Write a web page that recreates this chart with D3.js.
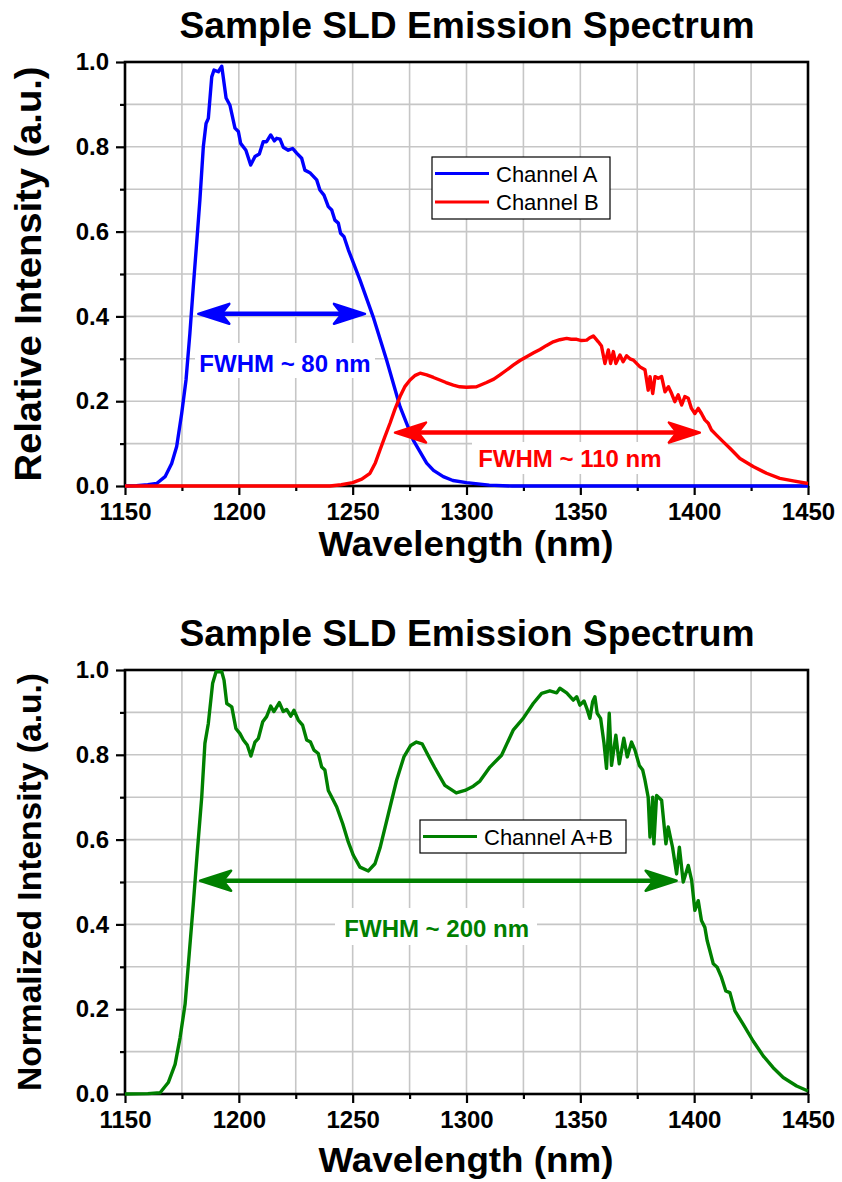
<!DOCTYPE html>
<html><head><meta charset="utf-8">
<script src="https://cdn.jsdelivr.net/npm/d3@7"></script>
<style>body{margin:0;background:#fff}svg{display:block}</style>
</head><body>
<svg id="c" width="842" height="1182"></svg>
<script>
// ---------- data ----------
const xTicks = [1150, 1200, 1250, 1300, 1350, 1400, 1450];
const yTicks = [0.0, 0.2, 0.4, 0.6, 0.8, 1.0];
const titleText = "Sample SLD Emission Spectrum";
const xLabel = "Wavelength (nm)";
const yLabelTop = "Relative Intensity (a.u.)";
const yLabelBottom = "Normalized Intensity (a.u.)";
const legendTop = ["Channel A", "Channel B"];
const legendBottom = ["Channel A+B"];

const wlA = [1150,1155,1160,1163.9,1167.6,1170.5,1172.7,1174.9,1176.8,1178.5,1180,1181.8,1182.9,1184.4,1185.6,1186.6,1188.1,1189.1,1191,1192.5,1194.4,1196.1,1198.3,1199.8,1200.8,1203.1,1205.2,1207.1,1209,1210.7,1212.2,1214,1215.6,1216.6,1218.1,1219.5,1221.7,1223.6,1225.4,1227.6,1229,1231.2,1234.2,1235.6,1237.4,1239.3,1240.8,1242.2,1243.7,1244.7,1246.2,1248.1,1253.2,1259,1264.9,1270.8,1276.6,1282.5,1285.5,1289.8,1294,1300,1310,1320,1450];
const intA = [0,0.001,0.003,0.006,0.022,0.053,0.093,0.171,0.25,0.36,0.47,0.596,0.675,0.8,0.855,0.867,0.965,0.981,0.977,0.99,0.915,0.898,0.844,0.836,0.808,0.792,0.757,0.777,0.783,0.812,0.812,0.828,0.814,0.82,0.818,0.799,0.792,0.796,0.785,0.773,0.745,0.739,0.722,0.698,0.686,0.659,0.651,0.627,0.62,0.596,0.588,0.557,0.486,0.399,0.297,0.187,0.108,0.054,0.037,0.022,0.013,0.008,0.002,0,0];

const wlB = [1150,1240,1245,1250,1254,1257.6,1260,1262,1264,1266.4,1268.5,1270.8,1273,1275.2,1277.5,1279.6,1282.5,1285.5,1288.3,1291,1294.2,1297,1300,1304.4,1308.8,1312,1314.7,1317.5,1320.5,1323.5,1326.4,1329.5,1332.3,1335,1338.1,1341,1344,1346,1348.4,1350.5,1352.8,1354,1355.7,1357.9,1359.3,1360.8,1362.3,1363.3,1364.5,1365.6,1367.4,1368.8,1370.3,1371.8,1373.3,1376.2,1378.4,1379.8,1380.6,1381.8,1382.8,1384.2,1385.7,1387.2,1388.7,1390.1,1391.5,1393,1394.5,1395.9,1397.4,1398.8,1400.3,1401.8,1403.2,1404.7,1406.2,1407.6,1409.8,1412.8,1415.7,1420.1,1425.9,1431.8,1437.6,1443.5,1450];
const intB = [0,0,0.003,0.008,0.016,0.03,0.055,0.085,0.114,0.148,0.18,0.211,0.235,0.25,0.261,0.266,0.262,0.256,0.25,0.244,0.238,0.234,0.233,0.234,0.244,0.252,0.262,0.273,0.285,0.296,0.305,0.314,0.322,0.331,0.34,0.345,0.348,0.346,0.346,0.343,0.344,0.349,0.354,0.34,0.33,0.289,0.321,0.289,0.317,0.289,0.309,0.293,0.307,0.3,0.297,0.281,0.274,0.226,0.258,0.218,0.258,0.254,0.258,0.222,0.234,0.218,0.199,0.215,0.191,0.211,0.207,0.183,0.171,0.183,0.171,0.156,0.148,0.132,0.12,0.104,0.089,0.065,0.046,0.03,0.018,0.012,0.006];

const wlAB = [1150,1160,1165.4,1169,1172,1174.2,1176.4,1178.2,1180,1181.8,1183.7,1185.1,1186.6,1188.5,1190,1192.5,1193.5,1194.7,1196.9,1198.7,1200.5,1202,1203.7,1205.3,1207.1,1208.6,1210.5,1212.2,1214,1215.4,1217.8,1219.5,1221,1222.8,1224.2,1226.1,1228,1229.8,1231.5,1233,1234.9,1236.4,1237.8,1239.3,1241.5,1243,1245.6,1248.1,1250.3,1253.2,1256.9,1259.8,1262,1265.7,1269.3,1272.5,1275.5,1278,1280.5,1283,1286,1290.5,1295.5,1299.3,1303,1305.9,1310.3,1315.4,1320.5,1324.9,1329.3,1333,1336.6,1339.6,1341,1344,1346.9,1348.4,1349.8,1351.6,1353,1354.2,1355.4,1356.4,1357.4,1358.9,1360.4,1361.5,1362.7,1363.7,1365.6,1367.1,1369.1,1370.6,1372.5,1374,1375.9,1377.4,1378.4,1379.8,1380.6,1381.8,1382.3,1383.5,1385.7,1387.6,1388.6,1390.5,1392.3,1393.5,1395.2,1397.4,1398.9,1400.3,1401.8,1403.2,1404.7,1405.7,1406.9,1408.4,1410.1,1412,1413.9,1415.7,1417.9,1421.5,1425.9,1430.3,1434.7,1439.1,1445,1450];
const intAB = [0,0.001,0.003,0.027,0.07,0.133,0.212,0.33,0.448,0.574,0.7,0.827,0.874,0.969,0.996,0.996,0.976,0.921,0.913,0.862,0.85,0.835,0.823,0.797,0.83,0.839,0.878,0.89,0.915,0.902,0.923,0.902,0.907,0.891,0.905,0.882,0.87,0.835,0.83,0.811,0.803,0.771,0.764,0.716,0.693,0.677,0.638,0.594,0.563,0.535,0.526,0.543,0.58,0.661,0.74,0.795,0.822,0.83,0.826,0.8,0.77,0.728,0.71,0.716,0.726,0.738,0.771,0.799,0.858,0.886,0.921,0.945,0.951,0.946,0.957,0.946,0.929,0.937,0.917,0.927,0.907,0.886,0.925,0.937,0.898,0.886,0.827,0.768,0.898,0.775,0.846,0.779,0.839,0.795,0.83,0.811,0.775,0.764,0.74,0.7,0.606,0.7,0.59,0.704,0.693,0.59,0.63,0.582,0.519,0.582,0.5,0.539,0.504,0.433,0.456,0.409,0.393,0.362,0.338,0.307,0.299,0.275,0.243,0.239,0.196,0.165,0.125,0.09,0.062,0.039,0.019,0.007];

// FWHM annotations: [start nm, end nm, level]
const fwhmA = [1182.2, 1255.4, 0.406];
const fwhmB = [1268.6, 1402.5, 0.126];
const fwhmAB = [1183, 1392.3, 0.503];
const fwhmLabels = ["FWHM ~ 80 nm", "FWHM ~ 110 nm", "FWHM ~ 200 nm"];

// ---------- drawing ----------
const svg = d3.select("#c");
const FONT = "'Liberation Sans', Arial, sans-serif";
const BLUE = "#0000ff", RED = "#ff0000", GREEN = "#008000";

function panel(top, bottom, opts) {
  const x = d3.scaleLinear().domain([1150, 1450]).range([125, 808]);
  const y = d3.scaleLinear().domain([0, 1]).range([bottom, top]);
  const g = svg.append("g");

  // grid
  const gx = d3.range(1175, 1450, 25);
  const gy = d3.range(1, 10).map(d => d / 10);
  g.append("g").selectAll("line").data(gx).join("line")
    .attr("x1", d => x(d)).attr("x2", d => x(d)).attr("y1", y(0)).attr("y2", y(1))
    .attr("stroke", "#c6c6c6").attr("stroke-width", 1.6);
  g.append("g").selectAll("line").data(gy).join("line")
    .attr("y1", d => y(d)).attr("y2", d => y(d)).attr("x1", x(1150)).attr("x2", x(1450))
    .attr("stroke", "#c6c6c6").attr("stroke-width", 1.6);

  // axes
  const ax = g.append("g").attr("transform", `translate(0,${y(0)})`)
    .call(d3.axisBottom(x).tickValues(xTicks).tickSize(9).tickPadding(8).tickFormat(d3.format("d")));
  const axm = g.append("g").attr("transform", `translate(0,${y(0)})`)
    .call(d3.axisBottom(x).tickValues(d3.range(1175, 1450, 50)).tickSize(5).tickFormat(""));
  const ay = g.append("g").attr("transform", `translate(${x(1150)},0)`)
    .call(d3.axisLeft(y).tickValues(yTicks).tickSize(9).tickPadding(7).tickFormat(d3.format(".1f")));
  const aym = g.append("g").attr("transform", `translate(${x(1150)},0)`)
    .call(d3.axisLeft(y).tickValues(d3.range(1, 10, 2).map(d => d / 10)).tickSize(5).tickFormat(""));
  [ax, axm, ay, aym].forEach(a => {
    a.select(".domain").remove();
    a.selectAll(".tick line").attr("stroke", "#000").attr("stroke-width", 2.2);
    a.selectAll(".tick text").attr("font-family", FONT).attr("font-weight", "bold")
      .attr("font-size", 24).attr("fill", "#000");
  });
  // frame
  g.append("rect").attr("x", x(1150)).attr("y", y(1)).attr("width", x(1450) - x(1150))
    .attr("height", y(0) - y(1)).attr("fill", "none").attr("stroke", "#000").attr("stroke-width", 2.6);

  // titles
  g.append("text").attr("x", 467).attr("y", top - 24).attr("text-anchor", "middle")
    .attr("font-family", FONT).attr("font-weight", "bold").attr("font-size", 36)
    .attr("textLength", 575).attr("lengthAdjust", "spacingAndGlyphs").text(titleText);
  g.append("text").attr("x", 466).attr("y", bottom + opts.xlabOff).attr("text-anchor", "middle")
    .attr("font-family", FONT).attr("font-weight", "bold").attr("font-size", 35)
    .attr("textLength", 295).attr("lengthAdjust", "spacingAndGlyphs").text(xLabel);
  g.append("text").attr("transform", `translate(41,${(top + bottom) / 2}) rotate(-90)`)
    .attr("text-anchor", "middle").attr("font-family", FONT).attr("font-weight", "bold")
    .attr("font-size", opts.ylabSize).attr("textLength", opts.ylabLen).attr("lengthAdjust", "spacingAndGlyphs")
    .text(opts.ylab);

  return { g, x, y };
}

function series(p, wl, val, color) {
  const line = d3.line().x((d, i) => p.x(wl[i])).y(d => p.y(d));
  p.g.append("path").datum(val).attr("d", line).attr("fill", "none")
    .attr("stroke", color).attr("stroke-width", 3.4).attr("stroke-linejoin", "round");
}

function arrow(p, spec, color) {
  const [a, b, lv] = spec;
  const x1 = p.x(a), x2 = p.x(b), yy = p.y(lv);
  p.g.append("line").attr("x1", x1 + 20).attr("x2", x2 - 20).attr("y1", yy).attr("y2", yy)
    .attr("stroke", color).attr("stroke-width", 4.5);
  const head = "M0,0 L-31,-10 L-23,0 L-31,10 Z";
  p.g.append("path").attr("d", head).attr("transform", `translate(${x2},${yy})`)
    .attr("fill", color).attr("stroke", color).attr("stroke-width", 2.5).attr("stroke-linejoin", "round");
  p.g.append("path").attr("d", head).attr("transform", `translate(${x1},${yy}) scale(-1,1)`)
    .attr("fill", color).attr("stroke", color).attr("stroke-width", 2.5).attr("stroke-linejoin", "round");
}

function label(p, text, cxnm, base, color, bg) {
  p.g.append("rect").attr("x", bg[0]).attr("y", bg[1]).attr("width", bg[2]).attr("height", bg[3]).attr("fill", "#fff");
  p.g.append("text").attr("x", p.x(cxnm)).attr("y", base).attr("text-anchor", "middle")
    .attr("font-family", FONT).attr("font-weight", "bold").attr("font-size", 24).attr("fill", color).text(text);
}

function legend(p, box, names, colors) {
  p.g.append("rect").attr("x", box[0]).attr("y", box[1]).attr("width", box[2]).attr("height", box[3])
    .attr("fill", "#fff").attr("stroke", "#000").attr("stroke-width", 1.2);
  names.forEach((n, i) => {
    const yy = box[1] + 16.5 + i * 28.5;
    p.g.append("line").attr("x1", box[0] + 3).attr("x2", box[0] + 57).attr("y1", yy).attr("y2", yy)
      .attr("stroke", colors[i]).attr("stroke-width", 3.2);
    p.g.append("text").attr("x", box[0] + 64).attr("y", yy + 8).attr("font-family", FONT)
      .attr("font-size", 22).attr("fill", "#000").text(n);
  });
}

// top panel
const P1 = panel(62, 486, { xlabOff: 70, ylab: yLabelTop, ylabSize: 36, ylabLen: 415 });
label(P1, fwhmLabels[0], 1220.3, 372, BLUE, [195, 343, 180, 35]);
label(P1, fwhmLabels[1], 1345.4, 467, RED, [472, 442, 196, 32]);
legend(P1, [432, 157, 178, 62], legendTop, [BLUE, RED]);
series(P1, wlA, intA, BLUE);
series(P1, wlB, intB, RED);
arrow(P1, fwhmA, BLUE);
arrow(P1, fwhmB, RED);

// bottom panel
const P2 = panel(670, 1094, { xlabOff: 78, ylab: yLabelBottom, ylabSize: 34, ylabLen: 418 });
label(P2, fwhmLabels[2], 1286.9, 937, GREEN, [335, 908, 202, 37]);
legend(P2, [420, 820, 206, 33], legendBottom, [GREEN]);
series(P2, wlAB, intAB, GREEN);
arrow(P2, fwhmAB, GREEN);
</script>
</body></html>
